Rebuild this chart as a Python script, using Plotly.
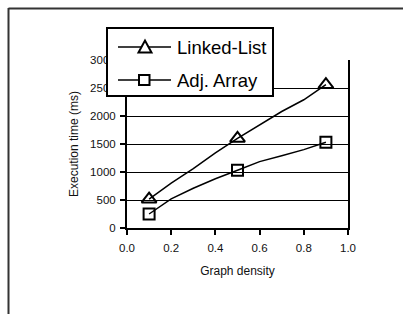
import plotly.graph_objects as go

# ---- data ----
density = [0.1, 0.2, 0.3, 0.4, 0.5, 0.6, 0.7, 0.8, 0.9]
linked_list = [515, 800, 1060, 1340, 1600, 1840, 2080, 2290, 2560]
adj_array = [250, 520, 710, 880, 1030, 1185, 1290, 1400, 1530]
marker_density = [0.1, 0.5, 0.9]
linked_list_marked = [515, 1600, 2560]
adj_array_marked = [250, 1030, 1530]
series_names = ["Linked-List", "Adj. Array"]
x_ticks = [0.0, 0.2, 0.4, 0.6, 0.8, 1.0]
x_ticktext = ["0.0", "0.2", "0.4", "0.6", "0.8", "1.0"]
y_ticks = [0, 500, 1000, 1500, 2000, 2500, 3000]

# ---- layout geometry (pixels) ----
W, H = 403, 314
L, R, T, B = 127, 55, 60, 86
PW, PH = W - L - R, H - T - B


def px(x):
    return (x - L) / PW


def py(y):
    return (H - B - y) / PH


FONT = "Arial, Liberation Sans, sans-serif"

fig = go.Figure()
fig.add_trace(go.Scatter(x=density, y=linked_list, mode="lines",
                         line=dict(color="black", width=1.5), showlegend=False))
fig.add_trace(go.Scatter(x=density, y=adj_array, mode="lines",
                         line=dict(color="black", width=1.5), showlegend=False))
fig.add_trace(go.Scatter(x=marker_density, y=linked_list_marked, mode="markers",
                         name=series_names[0],
                         marker=dict(symbol="triangle-up-open", size=13, color="black",
                                     line=dict(width=2, color="black")),
                         showlegend=False))
fig.add_trace(go.Scatter(x=marker_density, y=adj_array_marked, mode="markers",
                         name=series_names[1],
                         marker=dict(symbol="square-open", size=11, color="black",
                                     line=dict(width=2, color="black")),
                         showlegend=False))

shapes = []
# outer frame (top + left)
shapes.append(dict(type="line", xref="paper", yref="paper", x0=px(8.5), x1=px(403),
                   y0=py(8.5), y1=py(8.5), line=dict(color="#333", width=2), layer="above"))
shapes.append(dict(type="line", xref="paper", yref="paper", x0=px(8.5), x1=px(8.5),
                   y0=py(8), y1=py(314), line=dict(color="#333", width=2), layer="above"))
# legend box
shapes.append(dict(type="rect", xref="paper", yref="paper", x0=px(107), x1=px(273),
                   y0=py(28), y1=py(96), fillcolor="white",
                   line=dict(color="black", width=2), layer="above"))
# legend line samples
for yy in (47, 80):
    shapes.append(dict(type="line", xref="paper", yref="paper", x0=px(118), x1=px(171),
                       y0=py(yy), y1=py(yy), line=dict(color="black", width=1.5),
                       layer="above"))
# legend triangle
tri = "M {} {} L {} {} L {} {} Z".format(px(138.5), py(52.5), px(151.5), py(52.5),
                                        px(145), py(40.5))
shapes.append(dict(type="path", xref="paper", yref="paper", path=tri, fillcolor="white",
                   line=dict(color="black", width=2), layer="above"))
# legend square
shapes.append(dict(type="rect", xref="paper", yref="paper", x0=px(139), x1=px(149.5),
                   y0=py(75), y1=py(85), fillcolor="white",
                   line=dict(color="black", width=2), layer="above"))

annotations = [
    dict(x=px(175), y=py(47), xref="paper", yref="paper", text=series_names[0],
         showarrow=False, xanchor="left", yanchor="middle",
         font=dict(family=FONT, size=18.5, color="black")),
    dict(x=px(175), y=py(80), xref="paper", yref="paper", text=series_names[1],
         showarrow=False, xanchor="left", yanchor="middle",
         font=dict(family=FONT, size=18.5, color="black")),
]

fig.update_layout(
    width=W, height=H,
    margin=dict(l=L, r=R, t=T, b=B, pad=0),
    paper_bgcolor="white", plot_bgcolor="white",
    font=dict(family=FONT, size=11, color="black"),
    shapes=shapes, annotations=annotations,
    showlegend=False,
    xaxis=dict(range=[0, 1], tickvals=x_ticks, ticktext=x_ticktext,
               showgrid=False, zeroline=False, showline=True, linecolor="black",
               linewidth=2, ticks="outside", ticklen=5, tickwidth=1.5,
               tickcolor="black", tickfont=dict(size=11.5, color="#111"),
               ticklabelstandoff=3,
               title=dict(text="Graph density", font=dict(size=12, color="#111"),
                          standoff=14)),
    yaxis=dict(range=[0, 3000], tickvals=y_ticks, showgrid=True, gridcolor="black",
               gridwidth=1, zeroline=False, showline=True, mirror=True,
               linecolor="black", linewidth=2, ticks="outside", ticklen=5,
               tickwidth=1.5, tickcolor="black", tickfont=dict(size=11.5, color="#111"),
               ticklabelstandoff=2,
               title=dict(text="Execution time (ms)", font=dict(size=12, color="#111"),
                          standoff=9)),
)

fig.write_html("out.html", config={"displayModeBar": False},
               post_script="document.body.style.margin='0';")
